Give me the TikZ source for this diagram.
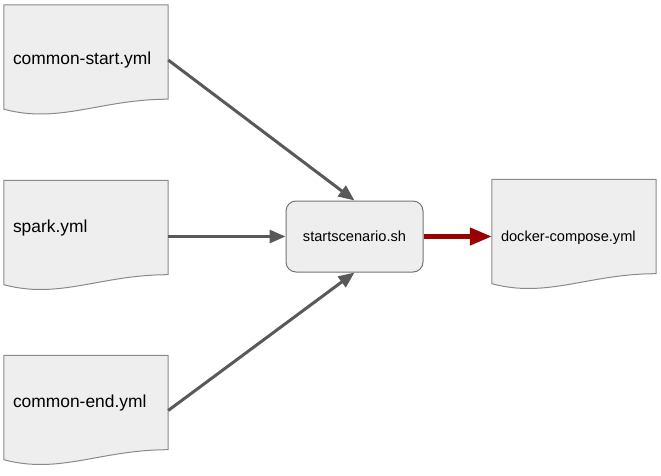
\documentclass[tikz,border=0pt]{standalone}
\usepackage{fontspec}
\setmainfont{Liberation Sans}
\usetikzlibrary{arrows.meta,positioning,backgrounds}

\definecolor{docfill}{HTML}{EEEEEE}
\definecolor{docline}{HTML}{8A8A8A}
\definecolor{flowgray}{HTML}{595959}
\definecolor{flowred}{HTML}{990000}

\begin{document}
\begin{tikzpicture}[x=1pt, y=-1pt,
  docnode/.style={rectangle, minimum width=164pt, minimum height=110pt, text width=146pt,
    align=left, inner xsep=9pt, inner ysep=0pt, font=\fontsize{17.4}{20}\selectfont},
  smalldoc/.style={docnode, font=\fontsize{14.6}{17}\selectfont},
  raised/.style={text depth=17.7pt},
  docshape/.style={draw=docline, fill=docfill, line width=1pt},
  scriptbox/.style={rectangle, draw=docline!85!black, fill=docfill, line width=1pt,
    rounded corners=10pt, minimum width=137pt, minimum height=71pt,
    font=\fontsize{14.6}{17}\selectfont},
  flow/.style={-{Triangle[length=16pt, width=13pt]}, draw=flowgray, line width=3pt},
  outflow/.style={-{Triangle[length=22pt, width=17pt]}, draw=flowred, line width=4.5pt}
]
  \useasboundingbox (0,0) rectangle (661,475);

  % -- Input files --
  \node[docnode] (cstart) at (86,60)    {common-start.yml};
  \node[docnode, raised] (spark)  at (86,235.5) {spark.yml};
  \node[docnode, raised] (cend)   at (86,410.5) {common-end.yml};

  % -- Script and output --
  \node[scriptbox] (script)  at (354.5,236.5) {startscenario.sh};
  \node[smalldoc, text height=16.6pt] (compose) at (574,234.5) {docker-compose.yml};

  % -- Document outlines with wavy bottom --
  \begin{scope}[on background layer]
    \foreach \d in {cstart,spark,cend,compose}{
      \filldraw[docshape] (\d.north west) -- (\d.north east) -- ([yshift=16pt]\d.south east)
        .. controls ([xshift=-68pt,yshift=16pt]\d.south east) and ([xshift=56pt,yshift=-9pt]\d.south west)
        .. ([yshift=6pt]\d.south west) -- cycle;
    }
  \end{scope}

  \draw[flow] (cstart.east) -- (script.north);
  \draw[flow] (spark.east |- script.west) -- (script.west);
  \draw[flow] (cend.east) -- (script.south);

  \draw[outflow] (script.east) -- (script.east -| compose.west);

\end{tikzpicture}
\end{document}
